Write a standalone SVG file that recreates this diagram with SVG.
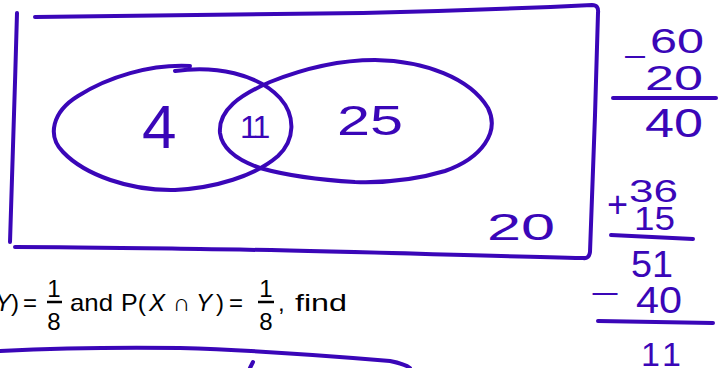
<svg xmlns="http://www.w3.org/2000/svg" width="726" height="368" viewBox="0 0 726 368">
<style>
.ink{fill:none;stroke:#3a06b8;stroke-width:4;stroke-linecap:round;stroke-linejoin:round}
.hw{fill:#3a06b8;font-family:"Liberation Sans",Arial,sans-serif}
.pt{fill:#000;font-family:"Liberation Sans",Arial,sans-serif;font-size:24px}
.it{font-style:italic}
.bar{stroke:#000;stroke-width:2.5}
</style>
<rect width="726" height="368" fill="#fff"/>
<g id="universe">
<path class="ink" d="M17,13 C15,90 12,170 10,242"/>
<path class="ink" d="M35,17 C150,15 260,14 363,13 C450,11 530,8 592,5 Q599,5 598,13 C596,90 593,180 590,252 Q589,259 583,258 C450,255 300,250 200,249 C130,248 70,247 15,247"/>
<text class="hw" x="487" y="240" font-size="37" textLength="68" lengthAdjust="spacingAndGlyphs">20</text>
</g>
<g id="setX">
<path class="ink" d="M175,71 C215,65 258,74 280,98 C296,116 295,140 278,156 C255,176 215,188 175,190 C130,191 85,175 63,152 C47,136 52,112 78,96 C108,77 150,64 190,66"/>
<text class="hw" x="142" y="148" font-size="62">4</text>
</g>
<g id="setY">
<path class="ink" d="M220,133 C218,110 240,95 270,82 C305,68 340,60 375,60 C425,61 470,78 488,108 C500,132 482,158 445,171 C415,180 385,183 355,182 C320,180 285,175 260,168 C237,160 222,148 220,133 Z"/>
<text class="hw" x="240" y="138" font-size="32" letter-spacing="-3">11</text>
<text class="hw" x="337" y="135" font-size="42" textLength="66" lengthAdjust="spacingAndGlyphs">25</text>
</g>
<g id="working">
<text class="hw" x="623" y="67" font-size="30" textLength="24" lengthAdjust="spacingAndGlyphs">−</text>
<text class="hw" x="650" y="53" font-size="35" textLength="54" lengthAdjust="spacingAndGlyphs">60</text>
<text class="hw" x="645" y="90" font-size="35" textLength="58" lengthAdjust="spacingAndGlyphs">20</text>
<path class="ink" d="M613,98 L716,98"/>
<text class="hw" x="645" y="137" font-size="40" textLength="58" lengthAdjust="spacingAndGlyphs">40</text>
<text class="hw" x="607" y="217" font-size="36">+</text>
<text class="hw" x="629" y="202" font-size="31" textLength="49" lengthAdjust="spacingAndGlyphs">36</text>
<text class="hw" x="634" y="230" font-size="33" textLength="41" lengthAdjust="spacingAndGlyphs">15</text>
<path class="ink" d="M611,235 L693,239"/>
<text class="hw" x="631" y="277" font-size="36" textLength="42" lengthAdjust="spacingAndGlyphs">51</text>
<text class="hw" x="590" y="304" font-size="30" textLength="30" lengthAdjust="spacingAndGlyphs">−</text>
<text class="hw" x="636" y="313" font-size="36" textLength="46" lengthAdjust="spacingAndGlyphs">40</text>
<path class="ink" d="M598,321 L713,323"/>
<text class="hw" x="641" y="366" font-size="34" textLength="40" lengthAdjust="spacing">11</text>
</g>
<g id="question">
<text class="pt it" x="-5" y="311">Y</text>
<text class="pt" x="11" y="311">)</text>
<text class="pt" x="23" y="311" textLength="14" lengthAdjust="spacingAndGlyphs">=</text>
<text class="pt" x="54" y="297" text-anchor="middle" font-size="25">1</text>
<line class="bar" x1="47" y1="302" x2="62" y2="302"/>
<text class="pt" x="54" y="330" text-anchor="middle" font-size="25">8</text>
<text class="pt" x="70" y="311" textLength="43" lengthAdjust="spacingAndGlyphs">and</text>
<text class="pt" x="121" y="311" textLength="25" lengthAdjust="spacingAndGlyphs">P(</text>
<text class="pt it" x="149" y="311">X</text>
<text class="pt" x="173" y="311" font-size="27">∩</text>
<text class="pt it" x="196" y="311">Y</text>
<text class="pt" x="216" y="311">)</text>
<text class="pt" x="229" y="311" textLength="14" lengthAdjust="spacingAndGlyphs">=</text>
<text class="pt" x="266" y="297" text-anchor="middle" font-size="25">1</text>
<line class="bar" x1="258" y1="302" x2="274" y2="302"/>
<text class="pt" x="266" y="330" text-anchor="middle" font-size="25">8</text>
<text class="pt" x="278" y="311">,</text>
<text class="pt" x="295" y="311" textLength="52" lengthAdjust="spacingAndGlyphs">find</text>
</g>
<g id="connectors">
<path class="ink" d="M0,351 C60,348 110,347 180,348 C250,350 320,355 390,361 Q405,364 410,368"/>
<path class="ink" d="M253,362 L250,368"/>
</g>
</svg>
